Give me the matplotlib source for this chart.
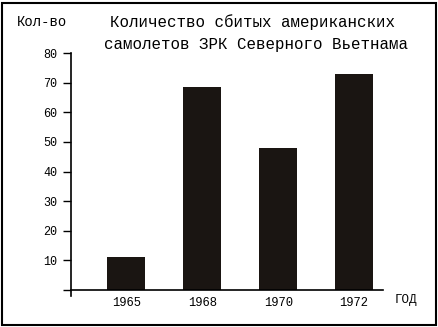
import matplotlib.pyplot as plt
from matplotlib.patches import Rectangle

years = ["1965", "1968", "1970", "1972"]
shot_down = [11, 68.5, 48, 73]
y_ticks = [10, 20, 30, 40, 50, 60, 70, 80]

W, H = 439, 327
plt.rcParams['font.family'] = ['Liberation Mono', 'DejaVu Sans Mono']

fig = plt.figure(figsize=(W / 100, H / 100), dpi=100)
fig.patch.set_facecolor('white')

# axes box in pixel terms: x 71..383, y 53 (80) .. 296 (-2)
ax = fig.add_axes([71 / W, (H - 296) / H, (383 - 71) / W, (296 - 53) / H])
x = range(len(years))
ax.bar(x, shot_down, width=0.5, color='#1a1512')

ax.set_xlim(-0.73, 3.38)
ax.set_ylim(-2, 80)
ax.spines['top'].set_visible(False)
ax.spines['right'].set_visible(False)
ax.spines['bottom'].set_position(('data', 0))
ax.spines['bottom'].set_linewidth(1.2)
ax.spines['left'].set_linewidth(1.2)

ax.set_yticks([0] + y_ticks)
ax.set_yticklabels([''] + [str(t) for t in y_ticks], fontsize=8.5)
ax.tick_params(axis='y', length=6, width=1, pad=4)
ax.set_xticks(list(x))
ax.set_xticklabels(years, fontsize=8.7)
ax.tick_params(axis='x', length=0, pad=5)

fig.text(253 / W, 1 - 22 / H, "Количество сбитых американских",
         ha='center', va='center', fontsize=11.4)
fig.text(256 / W, 1 - 45 / H, "самолетов ЗРК Северного Вьетнама",
         ha='center', va='center', fontsize=11.4)
fig.text(17 / W, 1 - 22 / H, "Кол-во", ha='left', va='center', fontsize=10)
fig.text(395 / W, 1 - 300 / H, "ГОД", ha='left', va='center', fontsize=9)

# outer frame
fig.patches.append(Rectangle((2 / W, 2 / H), 1 - 5 / W, 1 - 5 / H,
                             transform=fig.transFigure, fill=False,
                             edgecolor='black', linewidth=1.5))

fig.savefig('out.png', dpi=100)
